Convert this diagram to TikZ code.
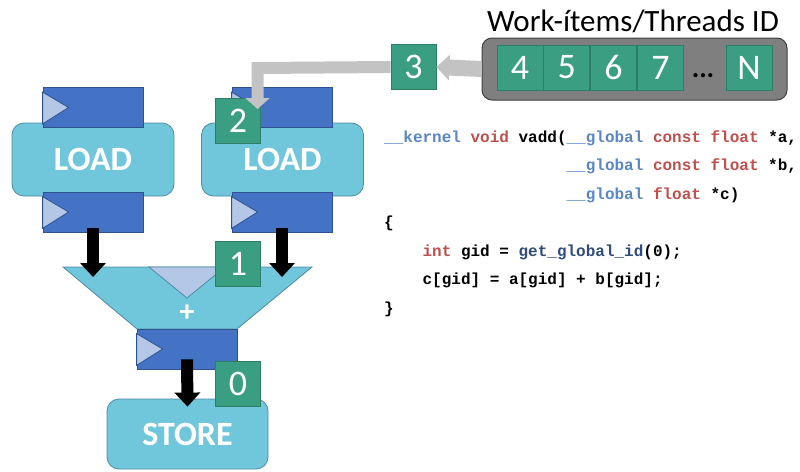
\documentclass[tikz,border=0pt]{standalone}
\usepackage{fontspec}
\setmainfont{Carlito}
\newfontfamily\codefont{Liberation Mono}
\usetikzlibrary{arrows.meta,positioning}
\definecolor{regblue}{HTML}{4472C4}
\definecolor{regline}{HTML}{2F528F}
\definecolor{trifill}{HTML}{B4C7E7}
\definecolor{unitcyan}{HTML}{70C6DB}
\definecolor{unitline}{HTML}{4F8CA3}
\definecolor{idgreen}{HTML}{3A9E83}
\definecolor{idline}{HTML}{2E7D66}
\definecolor{feedgray}{HTML}{C3C3C3}
\definecolor{poolgray}{HTML}{7F7F7F}
\definecolor{poolline}{HTML}{404040}
\definecolor{kwblue}{HTML}{5A86C8}
\definecolor{kwred}{HTML}{C0504D}
\definecolor{fnnavy}{HTML}{2F4C7C}
\begin{document}
\begin{tikzpicture}[x=1pt,y=-1pt,
	reg/.style={rectangle,draw=regline,fill=regblue,line width=0.8pt,
	minimum width=100pt,minimum height=40pt,inner sep=0},
	unit/.style={rectangle,draw=unitline,fill=unitcyan,line width=0.8pt,rounded corners=12pt,
	minimum width=162pt,minimum height=73pt,text=white,font=\bfseries\fontsize{34}{34}\selectfont},
	idbox/.style={rectangle,draw=idline,fill=idgreen,line width=0.8pt,minimum size=45pt,inner sep=0,
	text=white,font=\fontsize{36}{36}\selectfont},
	flow/.style={line width=12pt,-{Triangle[width=25pt,length=14pt]}},
	feed/.style={draw=feedgray,line width=12pt,line join=miter,-{Triangle[width=24pt,length=11pt]}},
	code/.style={anchor=base west,inner sep=0,font=\codefont\bfseries\fontsize{16}{16}\selectfont}]
\useasboundingbox (0,0) rectangle (800,471);
\node[unit] (load1) at (93,159.5) {LOAD};
\node[unit] (load2) at (282.5,159.5) {LOAD};
\node[unit,minimum width=161pt,minimum height=70pt] (store) at (187.5,434) {STORE};
\draw[draw=unitline,fill=unitcyan,line width=0.8pt] (63,267) coordinate (tl) -- (312,267) coordinate (tr)
	-- (237,329) -- (137,329) -- cycle;
\draw[draw=unitline,fill=trifill,line width=0.8pt] (149,267) -- (225,267) -- (187,298) -- cycle;
\node[text=white,font=\bfseries\fontsize{30}{30}\selectfont] (plus) at (187,313) {+};
\node[reg] (l1top) at (93,107.5) {};
\node[reg] (l1bot) at (93,212) {};
\node[reg] (l2top) at (282,107.5) {};
\node[reg] (l2bot) at (282,212) {};
\node[reg] (addreg) at (187,349) {};
\foreach \r in {l1top,l1bot,l2top,l2bot,addreg}
	\draw[draw=regline,fill=trifill,line width=0.8pt] ([shift={(0,5)}]\r.north west)
	-- ([shift={(26,0)}]\r.west) -- ([shift={(0,-4)}]\r.south west) -- cycle;
\coordinate (in1) at (93,277);
\coordinate (in2) at (282,277);
\draw[flow] ([yshift=4pt]l1bot.south) -- (in1);
\draw[flow] ([yshift=4pt]l2bot.south) -- (in2);
\draw[flow] ([yshift=10pt]addreg.south) -- ([yshift=-8pt]store.north);
\node[idbox] (id0) at (238,383.5) {0};
\node[idbox] (id1) at (238,263.5) {1};
\node[idbox] (id2) at (238,120.5) {2};
\node[idbox] (id3) at (413.5,67) {3};
\node[font=\fontsize{31}{31}\selectfont] (title) at (633,21) {Work-ítems/Threads ID};
\node[rectangle,draw=poolline,fill=poolgray,line width=1pt,rounded corners=10pt,
	minimum width=305pt,minimum height=62pt] (pool) at (634.5,69) {};
\node[idbox,minimum width=46pt] (c4) at (520,67.5) {4};
\node[idbox,minimum width=46pt,right=0pt of c4] (c5) {5};
\node[idbox,minimum width=46pt,right=0pt of c5] (c6) {6};
\node[idbox,minimum width=46pt,right=0pt of c6] (c7) {7};
\node[idbox,minimum width=46pt] (cN) at (749,67.5) {N};
\node[font=\bfseries\fontsize{28}{28}\selectfont] (dots) at (703,76) {...};
\coordinate (tip2) at (257.5,109);
\draw[feed] (id3.west) -- (257.5,68) -- (tip2);
\draw[feed,line width=16pt,-{Triangle[width=25pt,length=13pt]}] (pool.west) -- (id3.east);
\node[code] (code1) at (384,142) {\textcolor{kwblue}{\_\_kernel} \textcolor{kwred}{void} vadd(\textcolor{kwblue}{\_\_global} \textcolor{kwred}{const float} *a,};
\node[code] (code2) at (566.4,170.5) {\textcolor{kwblue}{\_\_global} \textcolor{kwred}{const float} *b,};
\node[code] (code3) at (566.4,199) {\textcolor{kwblue}{\_\_global} \textcolor{kwred}{float} *c)};
\node[code] (code4) at (384,227.5) {\{};
\node[code] (code5) at (422.4,256) {\textcolor{kwred}{int} gid = \textcolor{fnnavy}{get\_global\_id}(0);};
\node[code] (code6) at (422.4,284.5) {c[gid] = a[gid] + b[gid];};
\node[code] (code7) at (384,313) {\}};
\end{tikzpicture}
\end{document}
